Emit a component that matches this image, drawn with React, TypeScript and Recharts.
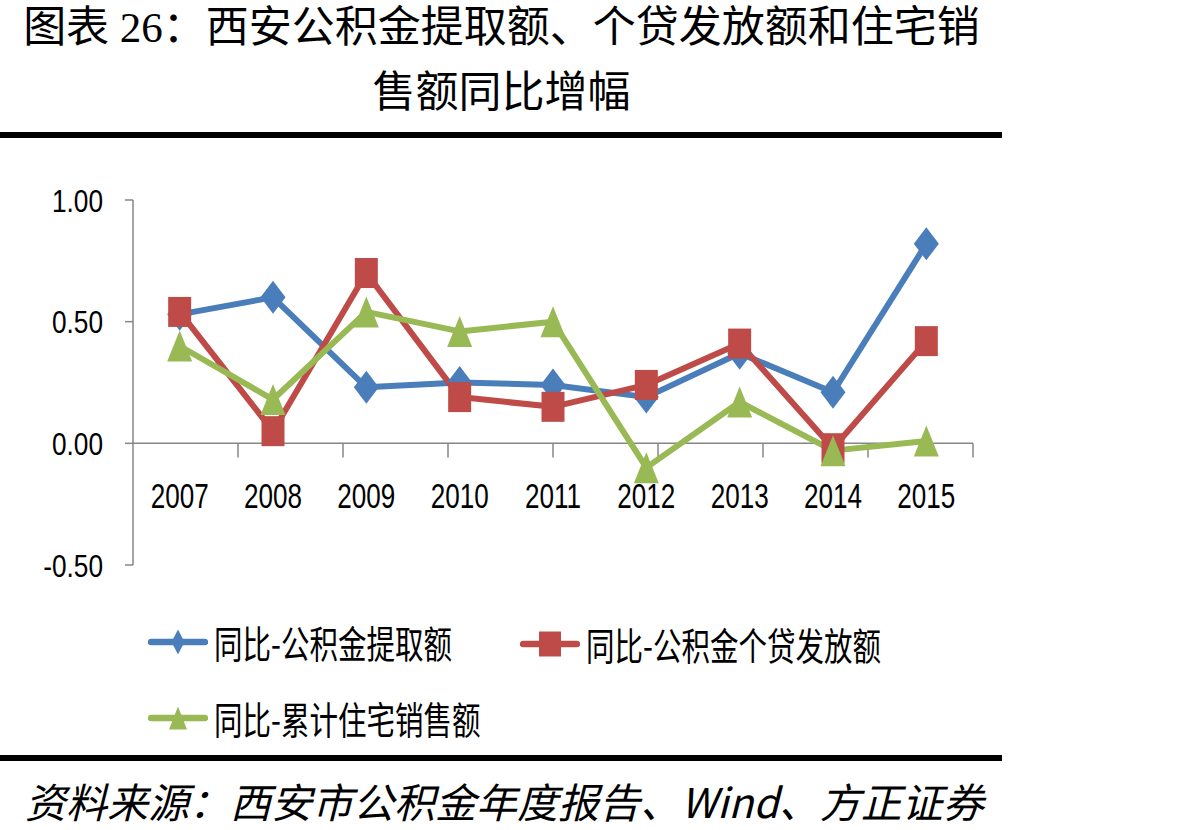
import React from 'react';
import { LineChart, Line, XAxis, YAxis, ReferenceLine, Legend } from 'recharts';

// Years on the category axis
const years = ['2007', '2008', '2009', '2010', '2011', '2012', '2013', '2014', '2015'];

// Year-over-year growth rates
const withdrawalYoY = [0.53, 0.6, 0.23, 0.25, 0.24, 0.19, 0.37, 0.21, 0.82];
const loanYoY = [0.54, 0.05, 0.7, 0.19, 0.15, 0.24, 0.41, -0.02, 0.42];
const salesYoY = [0.4, 0.18, 0.54, 0.46, 0.5, -0.1, 0.17, -0.03, 0.01];

// Value-axis ticks
const yTicks = [-0.5, 0, 0.5, 1];

// Series names
const withdrawalName = '同比-公积金提取额';
const loanName = '同比-公积金个贷发放额';
const salesName = '同比-累计住宅销售额';

const titleLine1 = '图表 26：西安公积金提取额、个贷发放额和住宅销';
const titleLine2 = '售额同比增幅';
const sourceText = '资料来源：西安市公积金年度报告、Wind、方正证券';

const BLUE = '#4A7EBB';
const RED = '#BE4B48';
const GREEN = '#98B954';
const AXIS_GRAY = '#868686';

const data = years.map((year, i) => ({
  year,
  withdrawal: withdrawalYoY[i],
  loan: loanYoY[i],
  sales: salesYoY[i],
}));

// boundaries between neighbouring categories (numeric helper axis)
const categoryBounds = years.map((_, i) => i + 1);

type Shape = 'diamond' | 'square' | 'triangle';

const series: { key: string; name: string; color: string; shape: Shape }[] = [
  { key: 'withdrawal', name: withdrawalName, color: BLUE, shape: 'diamond' },
  { key: 'loan', name: loanName, color: RED, shape: 'square' },
  { key: 'sales', name: salesName, color: GREEN, shape: 'triangle' },
];

function markerPath(shape: Shape, cx: number, cy: number, w: number, h: number) {
  const hw = w / 2;
  const hh = h / 2;
  if (shape === 'diamond') {
    return `M${cx},${cy - hh}L${cx + hw},${cy}L${cx},${cy + hh}L${cx - hw},${cy}Z`;
  }
  if (shape === 'square') {
    return `M${cx - hw},${cy - hh}H${cx + hw}V${cy + hh}H${cx - hw}Z`;
  }
  return `M${cx},${cy - hh}L${cx + hw},${cy + hh}L${cx - hw},${cy + hh}Z`;
}

const plotMarkerSize: Record<Shape, [number, number]> = {
  diamond: [25, 33],
  square: [23, 30],
  triangle: [25, 31],
};

const legendMarkerSize: Record<Shape, [number, number]> = {
  diamond: [13, 25],
  square: [22, 25],
  triangle: [18, 23],
};

const makeDot = (shape: Shape, color: string) => (props: any) => {
  const { cx, cy, index } = props;
  if (cx == null || cy == null) return <g key={`m-${index}`} />;
  const [w, h] = plotMarkerSize[shape];
  return <path key={`m-${index}`} d={markerPath(shape, cx, cy, w, h)} fill={color} />;
};

const YTick = (props: any) => {
  const { x, y, payload } = props;
  return (
    <g transform={`translate(${x},${y})`}>
      <text
        transform="scale(0.82,1)"
        textAnchor="end"
        dy="0.36em"
        fontSize={32}
        fontFamily='"Liberation Sans", Arial, sans-serif'
        fill="#000"
      >
        {Number(payload.value).toFixed(2)}
      </text>
    </g>
  );
};

// year labels sit just under the zero line
const XTick = (props: any) => {
  const { x, y, payload } = props;
  return (
    <g transform={`translate(${x},${y - 57})`}>
      <text
        transform="scale(0.745,1)"
        textAnchor="middle"
        fontSize={35}
        fontFamily='"Liberation Sans", Arial, sans-serif'
        fill="#000"
      >
        {payload.value}
      </text>
    </g>
  );
};

const legendSlots = [
  { left: 148, top: 32 },
  { left: 520, top: 34 },
  { left: 148, top: 108 },
];

// legend keeps the series order (提取额, 个贷发放额, 住宅销售额)
const renderLegend = (props: any) => {
  const payload: any[] = props.payload || [];
  return (
    <div style={{ position: 'relative', width: 1000, height: 140 }}>
      {series.map((s, i) => {
        const entry = payload.find((p) => p.dataKey === s.key);
        const label = entry ? entry.value : s.name;
        const slot = legendSlots[i];
        const [w, h] = legendMarkerSize[s.shape];
        return (
          <div
            key={s.key}
            style={{
              position: 'absolute',
              left: slot.left,
              top: slot.top - 20,
              height: 40,
              display: 'flex',
              alignItems: 'center',
              whiteSpace: 'nowrap',
            }}
          >
            <svg width={60} height={40} style={{ display: 'block' }}>
              <line x1={3} y1={20} x2={57} y2={20} stroke={s.color} strokeWidth={6.5} strokeLinecap="round" />
              <path d={markerPath(s.shape, 30, 20, w, h)} fill={s.color} />
            </svg>
            <span
              style={{
                display: 'inline-block',
                marginLeft: 6,
                fontSize: 38,
                lineHeight: '40px',
                fontFamily: '"Noto Sans CJK SC", sans-serif',
                color: '#000',
                transform: 'scaleX(0.75)',
                transformOrigin: 'left center',
              }}
            >
              {label}
            </span>
          </div>
        );
      })}
    </div>
  );
};

export default function App() {
  return (
    <div
      style={{
        position: 'absolute',
        left: 0,
        top: 0,
        width: 1195,
        height: 830,
        background: '#fff',
        overflow: 'hidden',
      }}
    >
      <div
        style={{
          position: 'absolute',
          left: 0,
          top: 6,
          width: 1003,
          textAlign: 'center',
          fontSize: 43,
          lineHeight: '44px',
          fontFamily: '"Liberation Serif", "Noto Sans CJK SC", serif',
          color: '#000',
          whiteSpace: 'nowrap',
        }}
      >
        {titleLine1}
      </div>
      <div
        style={{
          position: 'absolute',
          left: 0,
          top: 71,
          width: 1003,
          textAlign: 'center',
          fontSize: 43,
          lineHeight: '44px',
          fontFamily: '"Liberation Serif", "Noto Sans CJK SC", serif',
          color: '#000',
          whiteSpace: 'nowrap',
        }}
      >
        {titleLine2}
      </div>
      <div style={{ position: 'absolute', left: 0, top: 132, width: 1002, height: 6, background: '#000' }} />

      <div style={{ position: 'absolute', left: 0, top: 0 }}>
        <LineChart
          width={1000}
          height={830}
          data={data}
          margin={{ top: 200, right: 27, bottom: 235, left: 33 }}
        >
          <XAxis
            dataKey="year"
            type="category"
            padding={{ left: 46.67, right: 46.67 }}
            axisLine={false}
            tickLine={false}
            tickSize={0}
            tickMargin={0}
            height={30}
            interval={0}
            tick={<XTick />}
          />
          <XAxis xAxisId="bounds" type="number" domain={[0, years.length]} hide />
          <YAxis
            type="number"
            domain={[-0.5, 1]}
            ticks={yTicks}
            width={100}
            axisLine={{ stroke: AXIS_GRAY, strokeWidth: 1.5 }}
            tickLine={{ stroke: AXIS_GRAY, strokeWidth: 1.5 }}
            tickSize={8}
            tickMargin={22}
            tick={<YTick />}
          />
          <ReferenceLine y={0} stroke={AXIS_GRAY} strokeWidth={1.5} />
          {categoryBounds.map((b) => (
            <ReferenceLine
              key={`b-${b}`}
              xAxisId="bounds"
              segment={[
                { x: b, y: 0 },
                { x: b, y: -0.058 },
              ]}
              stroke={AXIS_GRAY}
              strokeWidth={1.5}
            />
          ))}
          <Legend
            layout="horizontal"
            verticalAlign="middle"
            align="center"
            content={renderLegend}
            wrapperStyle={{ position: 'absolute', left: 0, top: 610, width: 1000, height: 140 }}
          />
          {series.map((s) => (
            <Line
              key={s.key}
              type="linear"
              dataKey={s.key}
              name={s.name}
              stroke={s.color}
              strokeWidth={6}
              strokeLinejoin="round"
              dot={makeDot(s.shape, s.color)}
              activeDot={false}
              isAnimationActive={false}
            />
          ))}
        </LineChart>
      </div>

      <div style={{ position: 'absolute', left: 0, top: 755, width: 1002, height: 6, background: '#000' }} />
      <div
        style={{
          position: 'absolute',
          left: 25,
          top: 779,
          fontSize: 41,
          lineHeight: '42px',
          fontStyle: 'italic',
          fontFamily: '"Noto Sans CJK SC", sans-serif',
          color: '#000',
          whiteSpace: 'nowrap',
        }}
      >
        {sourceText}
      </div>
    </div>
  );
}
